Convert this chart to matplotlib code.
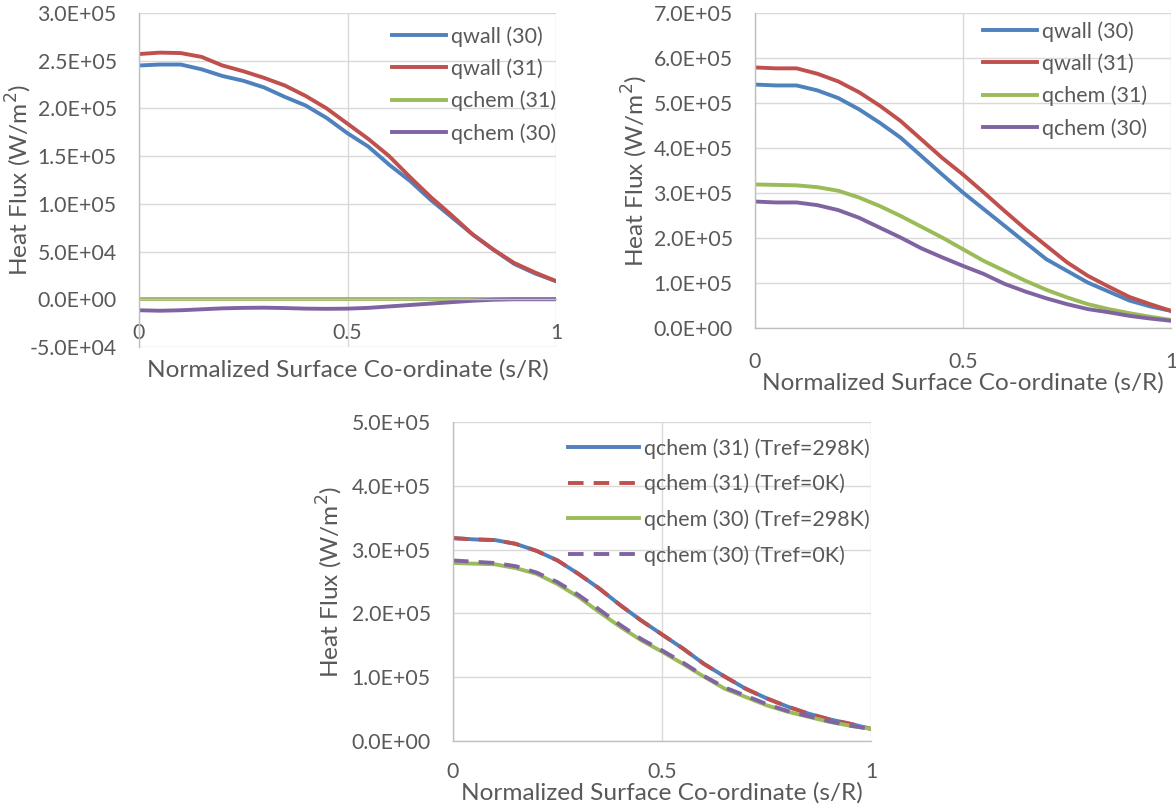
import numpy as np
import matplotlib.pyplot as plt
from matplotlib.ticker import FixedLocator

plt.rcParams['font.family'] = ['Lato', 'DejaVu Sans']

# normalized surface co-ordinate (s/R)
s_R = [0.0, 0.05, 0.10, 0.15, 0.20, 0.25, 0.30, 0.35, 0.40, 0.45, 0.50,
       0.55, 0.60, 0.65, 0.70, 0.75, 0.80, 0.85, 0.90, 0.95, 1.0]

# panel 1 (W/m2)
p1_qwall_30 = [2.45e5, 2.46e5, 2.46e5, 2.41e5, 2.34e5, 2.29e5, 2.22e5, 2.12e5, 2.03e5, 1.90e5, 1.74e5,
               1.60e5, 1.41e5, 1.24e5, 1.04e5, 0.86e5, 0.68e5, 0.52e5, 0.37e5, 0.27e5, 0.19e5]
p1_qwall_31 = [2.57e5, 2.585e5, 2.58e5, 2.54e5, 2.45e5, 2.39e5, 2.32e5, 2.24e5, 2.13e5, 2.00e5, 1.84e5,
               1.68e5, 1.50e5, 1.28e5, 1.07e5, 0.88e5, 0.68e5, 0.52e5, 0.38e5, 0.28e5, 0.19e5]
p1_qchem_31 = [0, 0, 0, 0, 0, 0, 0, 0, 0, 0, 0, 0, 0, 0, 0, 0, 0, 0, 0, 0, 0]
p1_qchem_30 = [-1.15e4, -1.2e4, -1.15e4, -1.05e4, -0.95e4, -0.9e4, -0.88e4, -0.92e4, -0.98e4, -1.0e4, -0.98e4,
               -0.9e4, -0.75e4, -0.6e4, -0.45e4, -0.3e4, -0.15e4, -0.05e4, 0, 0, 0]

# panel 2
p2_qwall_30 = [5.41e5, 5.39e5, 5.39e5, 5.28e5, 5.11e5, 4.86e5, 4.56e5, 4.23e5, 3.82e5, 3.41e5, 3.01e5,
               2.64e5, 2.27e5, 1.90e5, 1.53e5, 1.27e5, 1.01e5, 0.81e5, 0.61e5, 0.48e5, 0.38e5]
p2_qwall_31 = [5.79e5, 5.77e5, 5.77e5, 5.65e5, 5.48e5, 5.24e5, 4.94e5, 4.60e5, 4.19e5, 3.78e5, 3.41e5,
               3.01e5, 2.60e5, 2.20e5, 1.83e5, 1.46e5, 1.16e5, 0.92e5, 0.69e5, 0.53e5, 0.38e5]
p2_qchem_31 = [3.19e5, 3.18e5, 3.17e5, 3.13e5, 3.05e5, 2.90e5, 2.71e5, 2.49e5, 2.25e5, 2.01e5, 1.75e5,
               1.49e5, 1.27e5, 1.05e5, 0.85e5, 0.68e5, 0.53e5, 0.42e5, 0.33e5, 0.25e5, 0.18e5]
p2_qchem_30 = [2.81e5, 2.79e5, 2.79e5, 2.73e5, 2.62e5, 2.45e5, 2.23e5, 2.01e5, 1.77e5, 1.57e5, 1.38e5,
               1.20e5, 0.98e5, 0.81e5, 0.66e5, 0.53e5, 0.42e5, 0.35e5, 0.27e5, 0.21e5, 0.16e5]

# panel 3
p3_q31_298 = [3.18e5, 3.16e5, 3.15e5, 3.09e5, 2.98e5, 2.83e5, 2.62e5, 2.39e5, 2.13e5, 1.89e5, 1.67e5,
              1.45e5, 1.21e5, 1.01e5, 0.82e5, 0.67e5, 0.54e5, 0.43e5, 0.34e5, 0.27e5, 0.19e5]
p3_q31_0 = [3.18e5, 3.16e5, 3.15e5, 3.09e5, 2.98e5, 2.83e5, 2.62e5, 2.39e5, 2.13e5, 1.89e5, 1.67e5,
            1.45e5, 1.21e5, 1.01e5, 0.82e5, 0.67e5, 0.54e5, 0.43e5, 0.34e5, 0.27e5, 0.19e5]
p3_q30_298 = [2.79e5, 2.78e5, 2.77e5, 2.71e5, 2.62e5, 2.46e5, 2.26e5, 2.02e5, 1.79e5, 1.58e5, 1.40e5,
              1.21e5, 1.01e5, 0.82e5, 0.69e5, 0.56e5, 0.46e5, 0.38e5, 0.30e5, 0.24e5, 0.19e5]
p3_q30_0 = [2.83e5, 2.81e5, 2.79e5, 2.74e5, 2.64e5, 2.49e5, 2.29e5, 2.06e5, 1.82e5, 1.60e5, 1.42e5,
            1.23e5, 1.02e5, 0.84e5, 0.71e5, 0.58e5, 0.47e5, 0.39e5, 0.31e5, 0.24e5, 0.19e5]

x_ticks = [0, 0.5, 1]
x_ticklabels = ['0', '0.5', '1']

BLUE, RED, GREEN, PURPLE = '#4F81BD', '#C0504D', '#9BBB59', '#8064A2'
TXT = '#595959'
GRID = '#D9D9D9'

W, H = 1176, 809
fig = plt.figure(figsize=(W / 100, H / 100), dpi=100)


def px_axes(l, t, r, b):
    return fig.add_axes([l / W, 1 - b / H, (r - l) / W, (b - t) / H])


def style(ax, ylim, ystep, xlab_dy, ylab_dx=120, xpad=18):
    ax.set_xlim(0, 1)
    ax.set_ylim(*ylim)
    yt = np.arange(ylim[0], ylim[1] + 1, ystep)
    ax.yaxis.set_major_locator(FixedLocator(yt))
    ax.set_yticklabels([f'{v:.1E}' for v in yt])
    ax.set_xticks(x_ticks)
    ax.set_xticklabels(x_ticklabels)
    ax.grid(True, color=GRID, lw=1.0)
    ax.set_axisbelow(True)
    for s in ['top', 'right']:
        ax.spines[s].set_visible(False)
    for s in ['left', 'bottom']:
        ax.spines[s].set_color('#BFBFBF')
        ax.spines[s].set_linewidth(1.0)
    ax.tick_params(axis='both', length=0, labelsize=15.3, colors=TXT)
    ax.tick_params(axis='y', pad=16)
    ax.tick_params(axis='x', pad=xpad)
    ax.set_xlabel('Normalized Surface Co-ordinate (s/R)', fontsize=17.6, color=TXT)
    ax.set_ylabel('Heat Flux (W/m$^2$)', fontsize=17.6, color=TXT)
    bb = ax.get_position()
    h_px = bb.height * H
    w_px = bb.width * W
    ax.xaxis.set_label_coords(0.5, -xlab_dy / h_px)
    ax.xaxis.label.set_va('center')
    ax.yaxis.set_label_coords(-ylab_dx / w_px, 0.5)
    ax.yaxis.label.set_va('center')


def legend(ax, x, y, hl, sp=0.55):
    ax.legend(loc='upper left', bbox_to_anchor=(x / W, 1 - y / H), bbox_transform=fig.transFigure,
              frameon=False, fontsize=15.5, handlelength=hl, handletextpad=0.22,
              labelspacing=sp, borderpad=0, borderaxespad=0, labelcolor=TXT)


lw = 2.8
dash = (0, (4, 2.6))

# panel 1
ax1 = px_axes(139, 13, 556, 347)
ax1.plot(s_R, p1_qwall_30, color=BLUE, lw=lw, label='qwall (30)')
ax1.plot(s_R, p1_qwall_31, color=RED, lw=lw, label='qwall (31)')
ax1.plot(s_R, p1_qchem_31, color=GREEN, lw=lw, label='qchem (31)')
ax1.plot(s_R, p1_qchem_30, color=PURPLE, lw=lw, label='qchem (30)')
style(ax1, (-5e4, 3e5), 5e4, 23, xpad=17)
ax1.spines['bottom'].set_position(('data', 0))
legend(ax1, 392, 26, 2.5)

# panel 2
ax2 = px_axes(755, 13, 1171, 328)
ax2.plot(s_R, p2_qwall_30, color=BLUE, lw=lw, label='qwall (30)')
ax2.plot(s_R, p2_qwall_31, color=RED, lw=lw, label='qwall (31)')
ax2.plot(s_R, p2_qchem_31, color=GREEN, lw=lw, label='qchem (31)')
ax2.plot(s_R, p2_qchem_30, color=PURPLE, lw=lw, label='qchem (30)')
style(ax2, (0, 7e5), 1e5, 55, xpad=17)
legend(ax2, 983, 21, 2.5)

# panel 3
ax3 = px_axes(453, 422, 871, 741)
ax3.plot(s_R, p3_q31_298, color=BLUE, lw=lw, label='qchem (31) (Tref=298K)')
ax3.plot(s_R, p3_q31_0, color=RED, lw=lw, ls=dash, label='qchem (31) (Tref=0K)')
ax3.plot(s_R, p3_q30_298, color=GREEN, lw=lw, label='qchem (30) (Tref=298K)')
ax3.plot(s_R, p3_q30_0, color=PURPLE, lw=lw, ls=dash, label='qchem (30) (Tref=0K)')
style(ax3, (0, 5e5), 1e5, 52, 123, xpad=15)
legend(ax3, 568, 438, 3.3, sp=0.7)

fig.savefig('out.png', dpi=100)
